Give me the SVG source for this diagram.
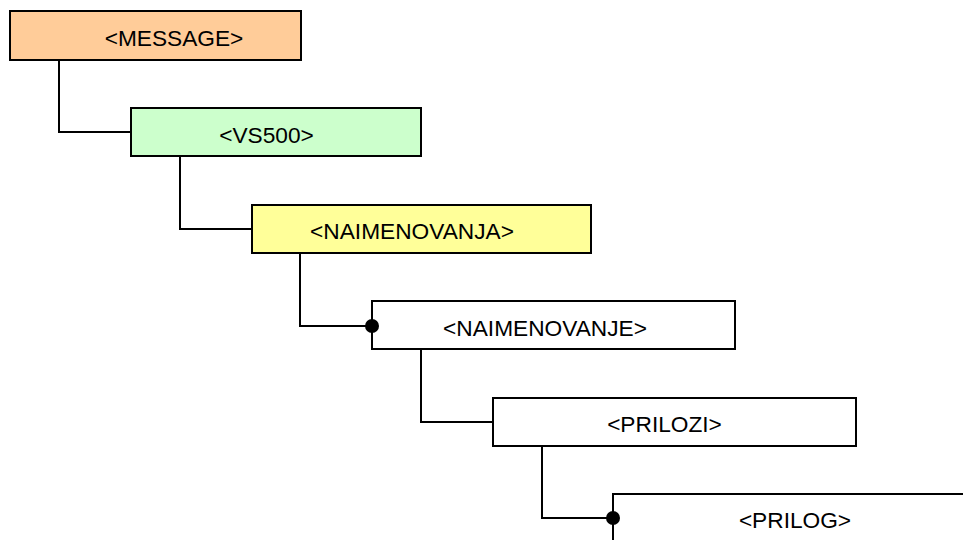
<svg xmlns="http://www.w3.org/2000/svg" width="963" height="540" viewBox="0 0 963 540">
<style>
.box{stroke:#000;stroke-width:2}
.lbl{font-family:"Liberation Sans",Arial,sans-serif;font-size:22.7px;fill:#000;text-anchor:middle}
.con{fill:none;stroke:#000;stroke-width:2}
.dot{fill:#000}
</style>
<rect width="963" height="540" fill="#fff"/>
<g id="message">
<rect class="box" x="10" y="11" width="291" height="49" fill="#FFCC99"/>
<text class="lbl" x="174" y="46">&lt;MESSAGE&gt;</text>
</g>
<g id="vs500">
<rect class="box" x="131" y="108" width="290" height="48" fill="#CCFFCC"/>
<text class="lbl" x="266.5" y="142.5">&lt;VS500&gt;</text>
</g>
<g id="naimenovanja">
<rect class="box" x="252" y="205" width="339" height="48" fill="#FFFF99"/>
<text class="lbl" x="412" y="239.3">&lt;NAIMENOVANJA&gt;</text>
</g>
<g id="naimenovanje">
<rect class="box" x="372" y="301" width="363" height="48" fill="#fff"/>
<text class="lbl" x="545" y="335.5">&lt;NAIMENOVANJE&gt;</text>
</g>
<g id="prilozi">
<rect class="box" x="493" y="398" width="363" height="48" fill="#fff"/>
<text class="lbl" x="664.5" y="431.7">&lt;PRILOZI&gt;</text>
</g>
<g id="prilog">
<rect class="box" x="613" y="494" width="400" height="60" fill="#fff"/>
<text class="lbl" x="795" y="528.3">&lt;PRILOG&gt;</text>
</g>
<g id="connectors">
<path class="con" d="M59,60 V132 H131"/>
<path class="con" d="M180,156 V229 H252"/>
<path class="con" d="M300,253 V326 H372"/>
<circle class="dot" cx="372" cy="326" r="7"/>
<path class="con" d="M421,349 V422 H493"/>
<path class="con" d="M542,446 V518 H613"/>
<circle class="dot" cx="613" cy="518" r="7"/>
</g>
</svg>
